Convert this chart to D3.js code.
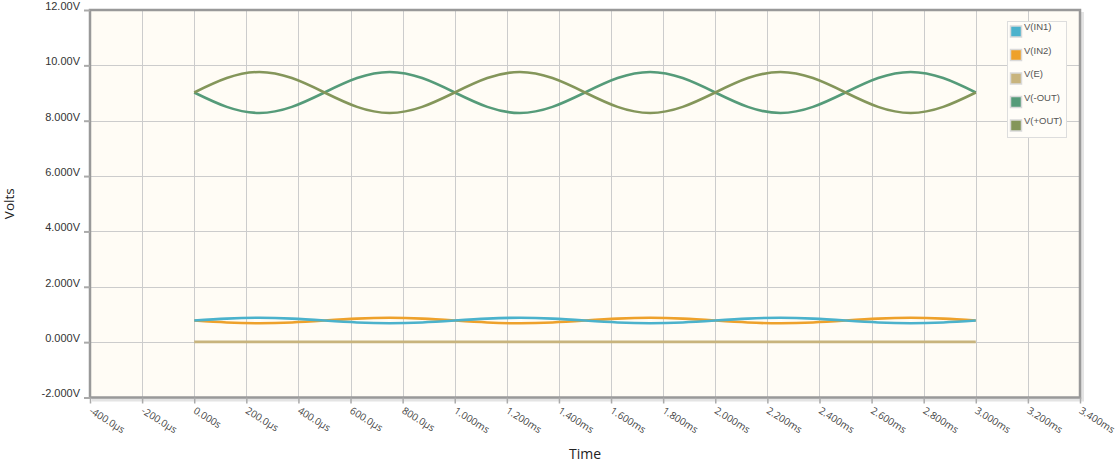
<!DOCTYPE html>
<html>
<head>
<meta charset="utf-8">
<script src="https://cdn.jsdelivr.net/npm/d3@7"></script>
<style>
html,body{margin:0;padding:0;background:#fff;}
svg{display:block;}
</style>
</head>
<body>
<svg id="chart" width="1117" height="473"></svg>
<script>
// time samples in microseconds
const timeUs = [0,125,250,375,500,625,750,875,1000,1125,1250,1375,1500,1625,1750,1875,2000,2125,2250,2375,2500,2625,2750,2875,3000];
const vIN1  = [0.78,0.85,0.88,0.85,0.78,0.71,0.68,0.71,0.78,0.85,0.88,0.85,0.78,0.71,0.68,0.71,0.78,0.85,0.88,0.85,0.78,0.71,0.68,0.71,0.78];
const vIN2  = [0.78,0.71,0.68,0.71,0.78,0.85,0.88,0.85,0.78,0.71,0.68,0.71,0.78,0.85,0.88,0.85,0.78,0.71,0.68,0.71,0.78,0.85,0.88,0.85,0.78];
const vE    = [0.01,0.01,0.01,0.01,0.01,0.01,0.01,0.01,0.01,0.01,0.01,0.01,0.01,0.01,0.01,0.01,0.01,0.01,0.01,0.01,0.01,0.01,0.01,0.01,0.01];
const vNOUT = [9.02,8.50,8.28,8.50,9.02,9.54,9.76,9.54,9.02,8.50,8.28,8.50,9.02,9.54,9.76,9.54,9.02,8.50,8.28,8.50,9.02,9.54,9.76,9.54,9.02];
const vPOUT = [9.02,9.54,9.76,9.54,9.02,8.50,8.28,8.50,9.02,9.54,9.76,9.54,9.02,8.50,8.28,8.50,9.02,9.54,9.76,9.54,9.02,8.50,8.28,8.50,9.02];

const seriesNames  = ["V(IN1)","V(IN2)","V(E)","V(-OUT)","V(+OUT)"];
const seriesValues = [vIN1, vIN2, vE, vNOUT, vPOUT];
const seriesColors = ["#4bb2cc","#eea12b","#c8b47d","#559b79","#84965a"];

const yTicks = [-2,0,2,4,6,8,10,12];
const yTickLabels = ["-2.000V","0.000V","2.000V","4.000V","6.000V","8.000V","10.00V","12.00V"];
const xTicks = [-400,-200,0,200,400,600,800,1000,1200,1400,1600,1800,2000,2200,2400,2600,2800,3000,3200,3400];
const xTickLabels = ["-400.0µs","-200.0µs","0.000s","200.0µs","400.0µs","600.0µs","800.0µs","1.000ms","1.200ms","1.400ms","1.600ms","1.800ms","2.000ms","2.200ms","2.400ms","2.600ms","2.800ms","3.000ms","3.200ms","3.400ms"];

const L = 90, R = 1080, T = 10, B = 397.5;
const svg = d3.select("#chart");
const x = d3.scaleLinear().domain([-400,3400]).range([L,R]);
const y = d3.scaleLinear().domain([-2,12]).range([B,T]);

// shadow of the plot frame
svg.append("rect").attr("x",L+2).attr("y",T+2).attr("width",R-L+2).attr("height",B-T+2)
  .attr("fill","#e4e4e4");
// plot background
svg.append("rect").attr("x",L).attr("y",T).attr("width",R-L).attr("height",B-T)
  .attr("fill","#fffcf5");

// grid
const grid = svg.append("g");
grid.selectAll("line.gx").data(xTicks.slice(1,-1)).enter().append("line")
  .attr("x1",d=>Math.round(x(d))+0.5).attr("x2",d=>Math.round(x(d))+0.5)
  .attr("y1",T).attr("y2",B).attr("stroke","#cccccc").attr("stroke-width",1);
grid.selectAll("line.gy").data(yTicks.slice(1,-1)).enter().append("line")
  .attr("y1",d=>Math.round(y(d))+0.5).attr("y2",d=>Math.round(y(d))+0.5)
  .attr("x1",L).attr("x2",R).attr("stroke","#cccccc").attr("stroke-width",1);

// frame
svg.append("rect").attr("x",L).attr("y",T).attr("width",R-L).attr("height",B-T)
  .attr("fill","none").attr("stroke","#999999").attr("stroke-width",2.5);

// y axis
const yAxis = d3.axisLeft(y).tickValues(yTicks).tickSize(6).tickPadding(4)
  .tickFormat((d,i)=>yTickLabels[i]);
const gy = svg.append("g").attr("transform",`translate(${L},0)`).call(yAxis);
gy.select(".domain").remove();
gy.selectAll(".tick line").attr("stroke","#aaaaaa").attr("stroke-width",2);
gy.selectAll(".tick text").attr("font-family","'Liberation Sans', Arial, sans-serif")
  .attr("font-size",11).attr("fill","#333").attr("dy","-0.05em");

// x axis
const xAxis = d3.axisBottom(x).tickValues(xTicks).tickSize(6).tickPadding(4)
  .tickFormat((d,i)=>xTickLabels[i]);
const gx = svg.append("g").attr("transform",`translate(0,${B})`).call(xAxis);
gx.select(".domain").remove();
gx.selectAll(".tick line").attr("stroke","#aaaaaa").attr("stroke-width",1.5);
gx.selectAll(".tick text").attr("font-family","'Open Sans', sans-serif")
  .attr("font-size",10).attr("fill","#444")
  .attr("text-anchor","start").attr("dy",null).attr("y",0)
  .attr("transform","translate(-2,15) rotate(32)");

// axis titles
svg.append("text").attr("x",(L+R)/2).attr("y",459).attr("text-anchor","middle")
  .attr("font-family","'Open Sans', sans-serif").attr("font-size",14).attr("fill","#222").text("Time");
svg.append("text").attr("transform",`translate(14,${(T+B)/2}) rotate(-90)`).attr("text-anchor","middle")
  .attr("font-family","'Open Sans', sans-serif").attr("font-size",13.5).attr("fill","#222").text("Volts");

// lines
const line = d3.line().x((d,i)=>x(timeUs[i])).y(d=>y(d)).curve(d3.curveNatural);
const linesG = svg.append("g");
const drawOrder = [2,1,0,3,4];
drawOrder.forEach(k=>{
  linesG.append("path").datum(seriesValues[k]).attr("d",line)
    .attr("fill","none").attr("stroke",seriesColors[k]).attr("stroke-width",2.6)
    .attr("stroke-linejoin","round");
});

// legend
const lg = svg.append("g");
lg.append("rect").attr("x",1007.5).attr("y",21.5).attr("width",59).attr("height",116)
  .attr("fill","#fffdf8").attr("stroke","#dddddd").attr("stroke-width",1);
seriesNames.forEach((n,i)=>{
  const yy = 26 + i*23.5;
  lg.append("rect").attr("x",1010.5).attr("y",yy).attr("width",11).attr("height",11)
    .attr("fill",seriesColors[i]).attr("stroke","#d9d9d9").attr("stroke-width",1.5);
  lg.append("text").attr("x",1024).attr("y",yy+4).attr("font-family","'Liberation Sans', Arial, sans-serif")
    .attr("font-size",9.5).attr("fill","#555").text(n);
});
</script>
</body>
</html>
